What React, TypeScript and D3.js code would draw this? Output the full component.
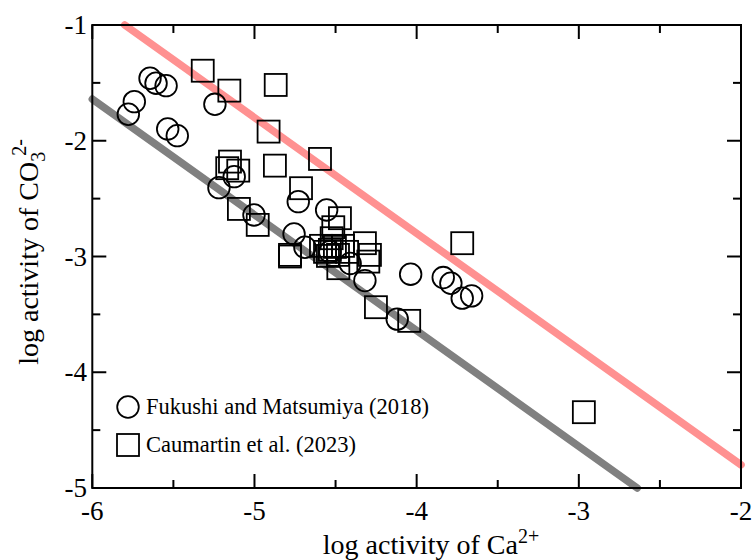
import * as d3 from "d3";
import React, { useEffect, useRef } from "react";

// Fukushi and Matsumiya (2018): [log a Ca2+, log a CO3 2-]
const fukushiPoints = [
  [-5.778, -1.771],
  [-5.741, -1.662],
  [-5.644, -1.46],
  [-5.607, -1.503],
  [-5.545, -1.524],
  [-5.535, -1.898],
  [-5.476, -1.956],
  [-5.244, -1.685],
  [-5.219, -2.405],
  [-5.125, -2.31],
  [-5.003, -2.641],
  [-4.756, -2.805],
  [-4.73, -2.526],
  [-4.689, -2.92],
  [-4.555, -2.598],
  [-4.535, -2.958],
  [-4.41, -3.06],
  [-4.319, -3.208],
  [-4.12, -3.541],
  [-4.037, -3.153],
  [-3.836, -3.182],
  [-3.789, -3.231],
  [-3.719, -3.36],
  [-3.661, -3.34]
];

// Caumartin et al. (2023)
const caumartinPoints = [
  [-5.319, -1.395],
  [-5.155, -1.567],
  [-4.869, -1.518],
  [-4.913, -1.921],
  [-4.874, -2.215],
  [-5.151, -2.18],
  [-5.168, -2.237],
  [-5.1, -2.258],
  [-4.596, -2.157],
  [-4.713, -2.41],
  [-5.096, -2.589],
  [-4.98, -2.727],
  [-4.781, -2.986],
  [-4.781, -3.0],
  [-4.473, -2.669],
  [-4.514, -2.747],
  [-4.524, -2.842],
  [-4.565, -2.96],
  [-4.535, -2.943],
  [-4.504, -2.917],
  [-4.454, -2.908],
  [-4.429, -2.96],
  [-4.547, -2.995],
  [-4.485, -2.986],
  [-4.59, -2.908],
  [-4.319, -2.885],
  [-4.288, -2.986],
  [-4.298, -3.044],
  [-4.483, -3.101],
  [-4.251, -3.438],
  [-4.046, -3.556],
  [-3.719, -2.885],
  [-2.969, -4.345]
];

// saturation lines
const pinkLine = [
  [-5.8, -1.0],
  [-2.0, -4.8]
];
const grayLine = [
  [-6.0, -1.64],
  [-2.64, -5.0]
];

const xTicks = [-6, -5, -4, -3, -2];
const yTicks = [-5, -4, -3, -2, -1];
const xMinor = [-5.5, -4.5, -3.5, -2.5];
const yMinor = [-4.5, -3.5, -2.5, -1.5];

const legendLabels = ["Fukushi and Matsumiya (2018)", "Caumartin et al. (2023)"];

function App() {
  const ref = useRef(null);

  const width = 753;
  const height = 560;
  const left = 92.3;
  const right = 741;
  const top = 25;
  const bottom = 488;
  const font = "Liberation Serif, Times New Roman, Times, serif";

  useEffect(() => draw(), []);

  function draw() {
    const x = d3.scaleLinear().domain([-6, -2]).range([left, right]);
    const y = d3.scaleLinear().domain([-5, -1]).range([bottom, top]);

    d3.select(ref.current).selectAll("*").remove();
    const svg = d3.select(ref.current);

    const line = d3
      .line()
      .x((d) => x(d[0]))
      .y((d) => y(d[1]));

    svg
      .append("path")
      .attr("d", line(pinkLine))
      .attr("fill", "none")
      .attr("stroke", "#ff9191")
      .attr("stroke-width", 7.5)
      .attr("stroke-linecap", "round");

    svg
      .append("path")
      .attr("d", line(grayLine))
      .attr("fill", "none")
      .attr("stroke", "#808080")
      .attr("stroke-width", 7.5)
      .attr("stroke-linecap", "round");

    // frame
    svg
      .append("rect")
      .attr("x", left)
      .attr("y", top)
      .attr("width", right - left)
      .attr("height", bottom - top)
      .attr("fill", "none")
      .attr("stroke", "#000")
      .attr("stroke-width", 2);

    // ticks on all four sides, pointing in
    const ticks = svg.append("g").attr("stroke", "#000").attr("stroke-width", 2);
    [
      { vals: xTicks, len: 14 },
      { vals: xMinor, len: 8 }
    ].forEach((t) => {
      t.vals.forEach((v) => {
        ticks.append("line").attr("x1", x(v)).attr("x2", x(v)).attr("y1", bottom).attr("y2", bottom - t.len);
        ticks.append("line").attr("x1", x(v)).attr("x2", x(v)).attr("y1", top).attr("y2", top + t.len);
      });
    });
    [
      { vals: yTicks, len: 14 },
      { vals: yMinor, len: 8 }
    ].forEach((t) => {
      t.vals.forEach((v) => {
        ticks.append("line").attr("y1", y(v)).attr("y2", y(v)).attr("x1", left).attr("x2", left + t.len);
        ticks.append("line").attr("y1", y(v)).attr("y2", y(v)).attr("x1", right).attr("x2", right - t.len);
      });
    });

    // tick labels
    svg
      .append("g")
      .selectAll("text")
      .data(xTicks)
      .enter()
      .append("text")
      .attr("x", (d) => x(d))
      .attr("y", 520)
      .attr("text-anchor", "middle")
      .attr("font-family", font)
      .attr("font-size", 27)
      .text((d) => String(d));

    svg
      .append("g")
      .selectAll("text")
      .data(yTicks)
      .enter()
      .append("text")
      .attr("x", 87)
      .attr("y", (d) => y(d) + 9)
      .attr("text-anchor", "end")
      .attr("font-family", font)
      .attr("font-size", 27)
      .text((d) => String(d));

    // axis titles
    const xt = svg
      .append("text")
      .attr("x", 431)
      .attr("y", 554)
      .attr("text-anchor", "middle")
      .attr("font-family", font)
      .attr("font-size", 28);
    xt.append("tspan").text("log activity of Ca");
    xt.append("tspan").attr("font-size", 20).attr("dy", -11).text("2+");

    const yt = svg
      .append("text")
      .attr("transform", "translate(38,252) rotate(-90)")
      .attr("text-anchor", "middle")
      .attr("font-family", font)
      .attr("font-size", 28);
    yt.append("tspan").text("log activity of CO");
    yt.append("tspan").attr("font-size", 20).attr("dy", 7).text("3");
    yt.append("tspan").attr("font-size", 20).attr("dx", -4).attr("dy", -19).text("2-");

    // markers
    svg
      .append("g")
      .selectAll("circle")
      .data(fukushiPoints)
      .enter()
      .append("circle")
      .attr("cx", (d) => x(d[0]))
      .attr("cy", (d) => y(d[1]))
      .attr("r", 10.8)
      .attr("fill", "none")
      .attr("stroke", "#000")
      .attr("stroke-width", 1.8);

    svg
      .append("g")
      .selectAll("rect")
      .data(caumartinPoints)
      .enter()
      .append("rect")
      .attr("x", (d) => x(d[0]) - 11)
      .attr("y", (d) => y(d[1]) - 11)
      .attr("width", 22)
      .attr("height", 22)
      .attr("fill", "none")
      .attr("stroke", "#000")
      .attr("stroke-width", 1.8);

    // legend
    const lg = svg.append("g").attr("font-family", font).attr("font-size", 22.5);
    lg.append("circle").attr("cx", 128).attr("cy", 407).attr("r", 10.8).attr("fill", "none").attr("stroke", "#000").attr("stroke-width", 1.8);
    lg.append("rect").attr("x", 117).attr("y", 434).attr("width", 22).attr("height", 22).attr("fill", "none").attr("stroke", "#000").attr("stroke-width", 1.8);
    lg.append("text").attr("x", 146).attr("y", 414).text(legendLabels[0]);
    lg.append("text").attr("x", 146).attr("y", 452).text(legendLabels[1]);
  }

  return (
    <svg
      ref={ref}
      width={width}
      height={height}
      style={{ position: "absolute", left: 0, top: 0, background: "#fff" }}
    />
  );
}

export default App;
